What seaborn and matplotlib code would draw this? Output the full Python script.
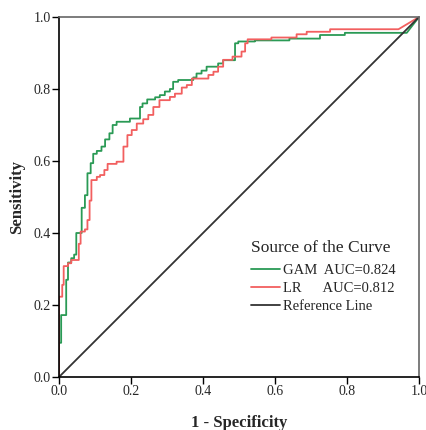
import matplotlib
matplotlib.use("Agg")
import matplotlib.pyplot as plt
import seaborn as sns

# ROC points (1 - specificity, sensitivity)
gam_fpr = [0, 0, 0.006, 0.006, 0.02, 0.02, 0.025, 0.025, 0.034, 0.034, 0.042, 0.042,
           0.048, 0.048, 0.063, 0.063, 0.072, 0.072, 0.079, 0.079, 0.088, 0.088,
           0.095, 0.095, 0.105, 0.105, 0.118, 0.118, 0.128, 0.128, 0.14, 0.14,
           0.149, 0.149, 0.16, 0.16, 0.197, 0.197, 0.225, 0.225, 0.232, 0.232,
           0.245, 0.245, 0.267, 0.267, 0.28, 0.28, 0.294, 0.294, 0.308, 0.308,
           0.317, 0.317, 0.331, 0.331, 0.373, 0.373, 0.382, 0.382, 0.396, 0.396,
           0.41, 0.41, 0.442, 0.442, 0.456, 0.456, 0.489, 0.489, 0.498, 0.498,
           0.544, 0.544, 0.64, 0.64, 0.725, 0.725, 0.794, 0.794, 0.966, 1.0]
gam_tpr = [0, 0.095, 0.095, 0.172, 0.172, 0.27, 0.27, 0.318, 0.318, 0.33, 0.33, 0.34,
           0.34, 0.40, 0.40, 0.47, 0.47, 0.505, 0.505, 0.566, 0.566, 0.594,
           0.594, 0.62, 0.62, 0.628, 0.628, 0.64, 0.64, 0.66, 0.66, 0.677,
           0.677, 0.70, 0.70, 0.709, 0.709, 0.718, 0.718, 0.75, 0.75, 0.76,
           0.76, 0.771, 0.771, 0.777, 0.777, 0.783, 0.783, 0.793, 0.793, 0.80,
           0.80, 0.82, 0.82, 0.825, 0.825, 0.832, 0.832, 0.843, 0.843, 0.851,
           0.851, 0.862, 0.862, 0.871, 0.871, 0.88, 0.88, 0.927, 0.927, 0.932,
           0.932, 0.935, 0.935, 0.94, 0.94, 0.95, 0.95, 0.956, 0.956, 1.0]

lr_fpr = [0, 0, 0.009, 0.009, 0.013, 0.013, 0.025, 0.025, 0.034, 0.034, 0.055, 0.055,
          0.06, 0.06, 0.072, 0.072, 0.079, 0.079, 0.085, 0.085, 0.09, 0.09,
          0.105, 0.105, 0.114, 0.114, 0.126, 0.126, 0.135, 0.135, 0.16, 0.16,
          0.179, 0.179, 0.19, 0.19, 0.202, 0.202, 0.216, 0.216, 0.234, 0.234,
          0.248, 0.248, 0.262, 0.262, 0.279, 0.279, 0.308, 0.308, 0.322, 0.322,
          0.341, 0.341, 0.355, 0.355, 0.369, 0.369, 0.415, 0.415, 0.429, 0.429,
          0.442, 0.442, 0.456, 0.456, 0.482, 0.482, 0.507, 0.507, 0.517, 0.517,
          0.524, 0.524, 0.59, 0.59, 0.66, 0.66, 0.688, 0.688, 0.753, 0.753, 0.943, 1.0]
lr_tpr = [0, 0.223, 0.223, 0.256, 0.256, 0.308, 0.308, 0.316, 0.316, 0.325, 0.325, 0.37,
          0.37, 0.404, 0.404, 0.41, 0.41, 0.436, 0.436, 0.49, 0.49, 0.547,
          0.547, 0.556, 0.556, 0.561, 0.561, 0.575, 0.575, 0.592, 0.592, 0.598,
          0.598, 0.64, 0.64, 0.672, 0.672, 0.686, 0.686, 0.704, 0.704, 0.716,
          0.716, 0.728, 0.728, 0.75, 0.75, 0.769, 0.769, 0.778, 0.778, 0.787,
          0.787, 0.804, 0.804, 0.811, 0.811, 0.829, 0.829, 0.839, 0.839, 0.848,
          0.848, 0.862, 0.862, 0.881, 0.881, 0.89, 0.89, 0.904, 0.904, 0.927,
          0.927, 0.938, 0.938, 0.943, 0.943, 0.952, 0.952, 0.959, 0.959, 0.966, 0.966, 1.0]

ref_x = [0, 1]
ref_y = [0, 1]

labels = ["GAM  AUC=0.824", "LR      AUC=0.812", "Reference Line"]
colors = ["#2a9a55", "#f25f5f", "#333333"]

sns.set_style("ticks")
plt.rcParams["font.family"] = ["Liberation Serif", "DejaVu Serif"]

fig = plt.figure(figsize=(4.26, 4.30), dpi=100)
ax = fig.add_axes([59 / 426, 53 / 430, 360 / 426, 360 / 430])

sns.lineplot(x=gam_fpr, y=gam_tpr, sort=False, estimator=None, ax=ax,
             color=colors[0], linewidth=1.3, label=labels[0])
sns.lineplot(x=lr_fpr, y=lr_tpr, sort=False, estimator=None, ax=ax,
             color=colors[1], linewidth=1.3, label=labels[1])
sns.lineplot(x=ref_x, y=ref_y, sort=False, estimator=None, ax=ax,
             color=colors[2], linewidth=1.3, label=labels[2])

ax.set_xlim(0, 1)
ax.set_ylim(0, 1)
ax.set_xticks([0, 0.2, 0.4, 0.6, 0.8, 1.0])
ax.set_yticks([0, 0.2, 0.4, 0.6, 0.8, 1.0])
ax.tick_params(labelsize=10, length=5, width=1, color="black", pad=1)
for s in ["left", "bottom"]:
    ax.spines[s].set_color("black")
    ax.spines[s].set_linewidth(1.2)
for s in ["top", "right"]:
    ax.spines[s].set_visible(True)
    ax.spines[s].set_color("#666666")
    ax.spines[s].set_linewidth(1.2)

ax.set_xlabel("1 - Specificity", fontsize=12, fontweight="bold", labelpad=12)
ax.set_ylabel("Sensitivity", fontsize=12, fontweight="bold", labelpad=6)

leg = ax.legend(title="Source of the Curve", loc="lower left",
                bbox_to_anchor=(0.514, 0.158), frameon=False, fontsize=10.5,
                title_fontsize=12.5, handlelength=1.95, handletextpad=0.2,
                labelspacing=0.32, borderpad=0)
leg._legend_box.align = "left"
leg._legend_box.sep = 6

fig.savefig("out.png", dpi=100)
